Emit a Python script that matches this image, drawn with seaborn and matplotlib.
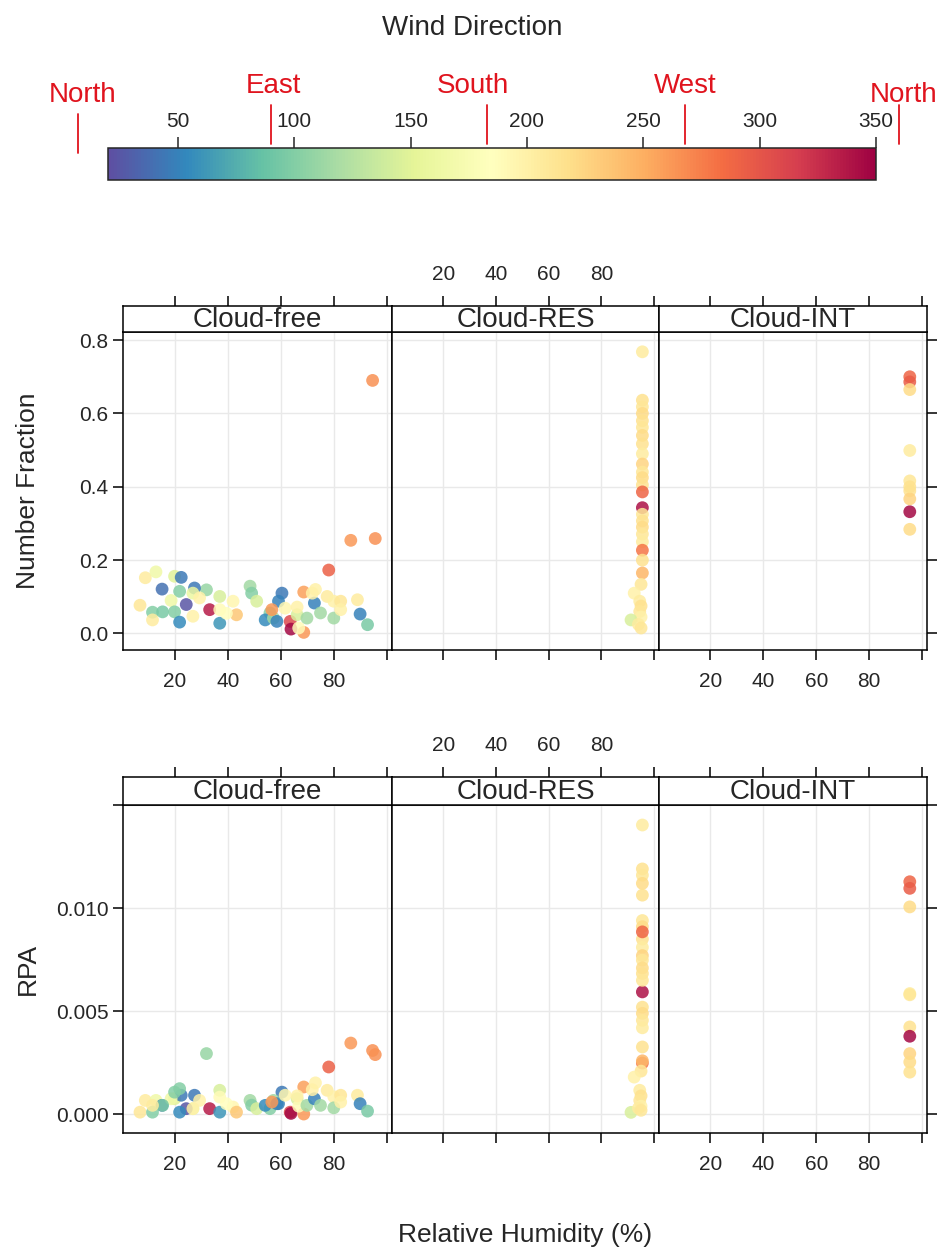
import numpy as np
import pandas as pd
import matplotlib
matplotlib.use('Agg')
import matplotlib.pyplot as plt
import seaborn as sns
from matplotlib.colors import Normalize
from matplotlib.colorbar import ColorbarBase
from matplotlib.transforms import blended_transform_factory

sns.set_style('white')
plt.rcParams['font.family'] = ['Liberation Sans', 'DejaVu Sans']

# --- Cloud-free samples ---
cf_rh = [94.5, 86.3, 95.5, 78.0, 68.6, 63.5, 63.8, 68.6, 32.0, 9.0, 13.0, 20.0, 22.5, 15.3, 21.9,
         27.5, 26.9, 29.4, 18.7, 7.0, 11.7, 15.5, 20.0, 24.4, 11.7, 21.9, 26.9, 33.2, 37.0, 42.0,
         37.0, 37.0, 43.3, 39.5, 48.4, 49.0, 50.9, 60.4, 59.1, 55.9, 54.1, 57.2, 58.5, 56.6, 61.6,
         66.1, 66.7, 69.8, 72.6, 73.0, 74.9, 77.4, 79.9, 82.5, 79.9, 82.5, 88.8, 89.8, 92.6, 66.1, 71.8]
cf_wd = [265, 262, 265, 292, 258, 310, 345, 262, 110, 205, 165, 150, 45, 40, 100,
         45, 160, 200, 165, 210, 100, 95, 100, 25, 205, 55, 200, 335, 145, 195,
         190, 60, 235, 185, 115, 100, 145, 45, 50, 100, 55, 115, 50, 262, 195,
         145, 190, 115, 50, 200, 115, 205, 200, 210, 115, 200, 205, 50, 95, 200, 200]
cf_nf = [0.690, 0.254, 0.259, 0.173, 0.113, 0.033, 0.012, 0.003, 0.119, 0.152, 0.168, 0.156, 0.153, 0.121, 0.115,
         0.124, 0.110, 0.097, 0.090, 0.077, 0.058, 0.059, 0.059, 0.079, 0.037, 0.031, 0.047, 0.065, 0.101, 0.088,
         0.065, 0.028, 0.051, 0.055, 0.129, 0.110, 0.088, 0.110, 0.088, 0.056, 0.037, 0.042, 0.033, 0.065, 0.069,
         0.051, 0.015, 0.042, 0.083, 0.120, 0.056, 0.101, 0.088, 0.088, 0.042, 0.065, 0.092, 0.053, 0.024, 0.072, 0.110]
cf_rpa = [0.00310, 0.00346, 0.00290, 0.00230, 0.00133, 0.00011, 0.00005, 0.00002, 0.00295, 0.00068, 0.00068, 0.00076, 0.00093, 0.00044, 0.00125,
          0.00093, 0.00028, 0.00068, 0.00076, 0.00011, 0.00011, 0.00044, 0.00108, 0.00028, 0.00044, 0.00011, 0.00028, 0.00028, 0.00117, 0.00036,
          0.00084, 0.00011, 0.00011, 0.00052, 0.00068, 0.00045, 0.00028, 0.00108, 0.00052, 0.00028, 0.00044, 0.00068, 0.00052, 0.00060, 0.00093,
          0.00076, 0.00040, 0.00044, 0.00076, 0.00153, 0.00044, 0.00117, 0.00086, 0.00093, 0.00032, 0.00060, 0.00093, 0.00052, 0.00016, 0.00090, 0.00120]

# --- Cloud-RES samples ---
res_rh = [95.5, 95.5, 95.5, 95.5, 95.5, 95.5, 95.5, 95.5, 95.5, 95.5, 95.5, 95.5, 95.5, 95.5, 95.5, 95.5,
          95.5, 95.5, 95.5, 95.5, 95.5, 95.5, 95.5, 95.0, 92.4, 94.5, 95.0, 94.5, 95.0, 91.2, 94.0, 95.0]
res_wd = [205, 215, 210, 220, 215, 210, 220, 215, 205, 225, 210, 220, 215, 290, 340, 210,
          215, 220, 210, 205, 280, 215, 245, 210, 200, 205, 215, 210, 200, 145, 205, 210]
res_nf = [0.768, 0.636, 0.618, 0.600, 0.580, 0.562, 0.540, 0.517, 0.490, 0.462, 0.440, 0.425, 0.405, 0.386, 0.343, 0.325,
          0.307, 0.290, 0.271, 0.250, 0.227, 0.200, 0.165, 0.134, 0.110, 0.088, 0.075, 0.060, 0.045, 0.037, 0.025, 0.015]
res_rpa = [0.01403, 0.01190, 0.01160, 0.01120, 0.01063, 0.00940, 0.00910, 0.00850, 0.00810, 0.00770, 0.00748, 0.00710, 0.00683, 0.00885, 0.00594, 0.00650,
           0.00520, 0.00490, 0.00456, 0.00420, 0.00249, 0.00327, 0.00260, 0.00210, 0.00181, 0.00117, 0.00090, 0.00068, 0.00040, 0.00010, 0.00030, 0.00020]

# --- Cloud-INT samples ---
int_rh = [95.3, 95.3, 95.3, 95.3, 95.3, 95.3, 95.3, 95.3, 95.3, 95.3]
int_wd = [290, 295, 220, 205, 210, 215, 345, 225, 220, 215]
int_nf = [0.700, 0.686, 0.665, 0.499, 0.416, 0.389, 0.332, 0.367, 0.284, 0.400]
int_rpa = [0.01128, 0.01096, 0.01006, 0.00586, 0.00580, 0.00424, 0.00379, 0.00295, 0.00254, 0.00205]

conditions = ['Cloud-free', 'Cloud-RES', 'Cloud-INT']
x_ticks = [20, 40, 60, 80, 100]
x_ticklabels = ['20', '40', '60', '80', '']
cb_ticks = [50, 100, 150, 200, 250, 300, 350]
compass_names = ['North', 'East', 'South', 'West', 'North']
compass_lines = [7, 90, 183, 268, 360]
compass_text = [9, 91, 177, 268, 362]

frames = []
for name, rh, wd, nf, rpa in [('Cloud-free', cf_rh, cf_wd, cf_nf, cf_rpa),
                              ('Cloud-RES', res_rh, res_wd, res_nf, res_rpa),
                              ('Cloud-INT', int_rh, int_wd, int_nf, int_rpa)]:
    frames.append(pd.DataFrame({'cond': name, 'rh': rh, 'wd': wd, 'nf': nf, 'rpa': rpa}))
df = pd.concat(frames, ignore_index=True)

W, H = 945, 1259
fig = plt.figure(figsize=(W / 100, H / 100), dpi=100)


def box(x0, y0, x1, y1):
    # pixel box (top-left origin) -> figure fraction
    return [x0 / W, 1 - y1 / H, (x1 - x0) / W, (y1 - y0) / H]


norm = Normalize(20, 350)
cmap = plt.get_cmap('Spectral_r')
panel_x = [(123, 392), (392, 659), (659, 927)]
rows = [dict(var='nf', label='Number Fraction', strip=(306, 332), panel=(332, 650),
             ylim=(-0.045, 0.822), yticks=[0, 0.2, 0.4, 0.6, 0.8],
             ylabels=['0.0', '0.2', '0.4', '0.6', '0.8']),
        dict(var='rpa', label='RPA', strip=(777, 805), panel=(805, 1133),
             ylim=(-0.0009, 0.0150), yticks=[0, 0.005, 0.010, 0.015],
             ylabels=['0.000', '0.005', '0.010', ''])]
xlim = (0.6, 101.8)
tick_kw = dict(length=7, width=1.1, color='black', labelsize=15, direction='out')

for row in rows:
    s0, s1 = row['strip']
    p0, p1 = row['panel']
    for i, cond in enumerate(conditions):
        x0, x1 = panel_x[i]
        ax = fig.add_axes(box(x0, p0, x1, p1))
        sub = df[df['cond'] == cond]
        sns.scatterplot(data=sub, x='rh', y=row['var'], hue='wd', palette=cmap, hue_norm=norm,
                        s=85, alpha=0.85, linewidth=0, legend=False, ax=ax, zorder=3)
        ax.set_xlim(*xlim)
        ax.set_ylim(*row['ylim'])
        ax.set_xticks(x_ticks)
        ax.set_yticks(row['yticks'])
        ax.grid(True, color='#e9e9e9', lw=1)
        ax.set_axisbelow(True)
        ax.set_xlabel('')
        ax.set_ylabel('')
        for sp in ax.spines.values():
            sp.set_color('black')
            sp.set_linewidth(1.1)
        ax.tick_params(axis='x', bottom=True, top=False, pad=9, **tick_kw)
        if i == 1:
            ax.set_xticklabels([])
        else:
            ax.set_xticklabels(x_ticklabels)
        if i == 0:
            ax.tick_params(axis='y', left=True, right=False, **tick_kw)
            ax.set_yticklabels(row['ylabels'])
        elif i == 2:
            ax.tick_params(axis='y', left=False, right=True, labelleft=False, **tick_kw)
        else:
            ax.tick_params(axis='y', left=False, right=False, labelleft=False)

        sax = fig.add_axes(box(x0, s0, x1, s1))
        sax.set_xlim(*xlim)
        sax.set_xticks(x_ticks)
        sax.set_yticks([])
        sax.set_facecolor('white')
        for sp in sax.spines.values():
            sp.set_color('black')
            sp.set_linewidth(1.1)
        sax.tick_params(axis='x', bottom=False, top=True, labelbottom=False,
                        labeltop=(i == 1), pad=9, **tick_kw)
        sax.set_xticklabels(x_ticklabels)
        sax.text(0.5, 0.45, cond, transform=sax.transAxes, ha='center', va='center', fontsize=20)
    fig.text(28 / W, 1 - (p0 + p1) / 2 / H, row['label'], rotation=90, ha='center', va='center', fontsize=19)

fig.text(525 / W, 1 - 1235 / H, 'Relative Humidity (%)', ha='center', va='center', fontsize=19)

# --- colour key ---
cax = fig.add_axes(box(108, 148, 876, 180))
cb = ColorbarBase(cax, cmap=cmap, norm=norm, orientation='horizontal')
cb.outline.set_linewidth(1.1)
cax.xaxis.set_ticks_position('top')
cax.set_xticks(cb_ticks)
cax.tick_params(axis='x', length=8, width=1.1, labelsize=15, pad=4)
fig.text(0.5, 1 - 28 / H, 'Wind Direction', ha='center', va='center', fontsize=20)

trans = blended_transform_factory(cax.transData, cax.transAxes)
for j, (nm, lx, tx) in enumerate(zip(compass_names, compass_lines, compass_text)):
    lo, hi = (0.85, 2.05) if j == 0 else (1.12, 2.35)
    ty = 2.65 if j in (0, 4) else 2.95
    cax.plot([lx, lx], [lo, hi], color='#e0141e', lw=1.3, transform=trans, clip_on=False)
    cax.text(tx, ty, nm, color='#e0141e', fontsize=20, ha='center', va='center',
             transform=trans, clip_on=False)

fig.savefig('out.png', dpi=100)
